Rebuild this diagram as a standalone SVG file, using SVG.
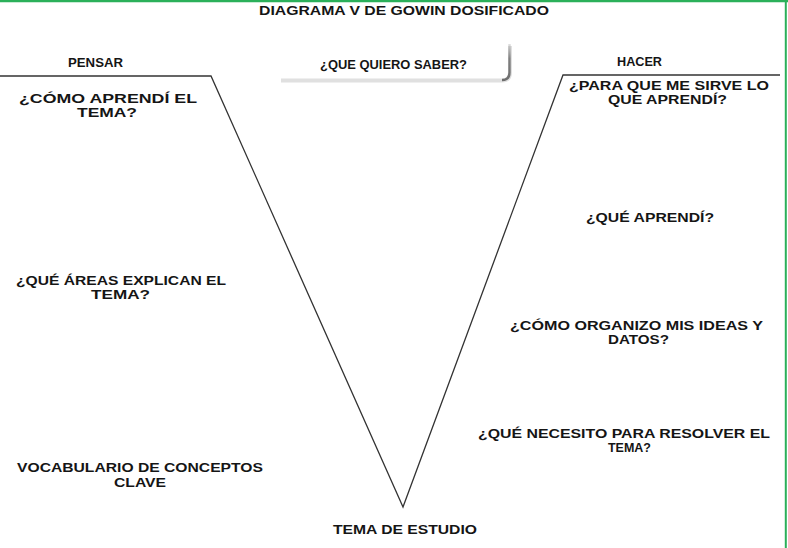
<svg xmlns="http://www.w3.org/2000/svg" width="788" height="548" viewBox="0 0 788 548">
<defs>
<linearGradient id="shB" x1="0" y1="0" x2="1" y2="0">
<stop offset="0" stop-color="#9a9a9a" stop-opacity="0.2"/>
<stop offset="0.2" stop-color="#8a8a8a" stop-opacity="0.9"/>
<stop offset="1" stop-color="#6e6e6e"/>
</linearGradient>
<linearGradient id="shR" x1="0" y1="0" x2="0" y2="1">
<stop offset="0" stop-color="#9a9a9a" stop-opacity="0.3"/>
<stop offset="0.4" stop-color="#808080"/>
<stop offset="1" stop-color="#6e6e6e"/>
</linearGradient>
</defs>
<style>
text{font-family:"Liberation Sans",Arial,sans-serif;font-weight:bold;fill:#151515;font-size:12.5px}
.t{font-size:12.5px}
.v{fill:none;stroke:#333;stroke-width:1.3}
</style>
<rect x="0" y="0" width="788" height="548" fill="#ffffff"/>
<g id="border">
<line x1="0" y1="1" x2="788" y2="1" stroke="#2bb05a" stroke-width="2.5"/>
<line x1="785.8" y1="0" x2="785.8" y2="548" stroke="#2bb05a" stroke-width="2"/>
</g>
<g id="title"><text class="t" x="259" y="15" textLength="290" lengthAdjust="spacingAndGlyphs">DIAGRAMA V DE GOWIN DOSIFICADO</text></g>
<g id="connectors">
<path class="v" d="M0 76 H211 L403 507 L563 75 H780"/>
</g>
<g id="pensar"><text class="t" x="68" y="66.5" textLength="55" lengthAdjust="spacingAndGlyphs">PENSAR</text></g>
<g id="hacer"><text class="t" x="617" y="65.5" textLength="45" lengthAdjust="spacingAndGlyphs">HACER</text></g>
<g id="saber">
<path d="M281 80.5 H502 Q510 80.5 510 72.5 V46" fill="none" stroke="#e0e0e0" stroke-width="4"/>
<path d="M283 80 H502" fill="none" stroke="url(#shB)" stroke-width="2.2"/>
<path d="M502 80 Q509.5 80 509.5 72.5 V44" fill="none" stroke="url(#shR)" stroke-width="2.4"/>
<text class="t" x="320" y="69" textLength="147" lengthAdjust="spacingAndGlyphs">¿QUE QUIERO SABER?</text>
</g>
<g id="como-aprendi">
<text x="19" y="103" textLength="178" lengthAdjust="spacingAndGlyphs">¿CÓMO APRENDÍ EL</text>
<text x="77" y="117" textLength="60" lengthAdjust="spacingAndGlyphs">TEMA?</text>
</g>
<g id="areas">
<text x="16" y="285" textLength="210" lengthAdjust="spacingAndGlyphs">¿QUÉ ÁREAS EXPLICAN EL</text>
<text x="91" y="299" textLength="59" lengthAdjust="spacingAndGlyphs">TEMA?</text>
</g>
<g id="vocabulario">
<text x="17" y="472" textLength="246" lengthAdjust="spacingAndGlyphs">VOCABULARIO DE CONCEPTOS</text>
<text x="114" y="487" textLength="52" lengthAdjust="spacingAndGlyphs">CLAVE</text>
</g>
<g id="tema-estudio">
<text x="333" y="534" textLength="144" lengthAdjust="spacingAndGlyphs">TEMA DE ESTUDIO</text>
</g>
<g id="para-que">
<text x="569" y="89.5" textLength="200" lengthAdjust="spacingAndGlyphs">¿PARA QUE ME SIRVE LO</text>
<text x="608" y="104" textLength="119" lengthAdjust="spacingAndGlyphs">QUE APRENDÍ?</text>
</g>
<g id="que-aprendi">
<text x="586" y="222" textLength="128" lengthAdjust="spacingAndGlyphs">¿QUÉ APRENDÍ?</text>
</g>
<g id="organizo">
<text x="510" y="329.5" textLength="253" lengthAdjust="spacingAndGlyphs">¿CÓMO ORGANIZO MIS IDEAS Y</text>
<text x="608" y="344" textLength="61" lengthAdjust="spacingAndGlyphs">DATOS?</text>
</g>
<g id="necesito">
<text x="478" y="437.5" textLength="292" lengthAdjust="spacingAndGlyphs">¿QUÉ NECESITO PARA RESOLVER EL</text>
<text x="608" y="452" textLength="43" lengthAdjust="spacingAndGlyphs">TEMA?</text>
</g>
</svg>
